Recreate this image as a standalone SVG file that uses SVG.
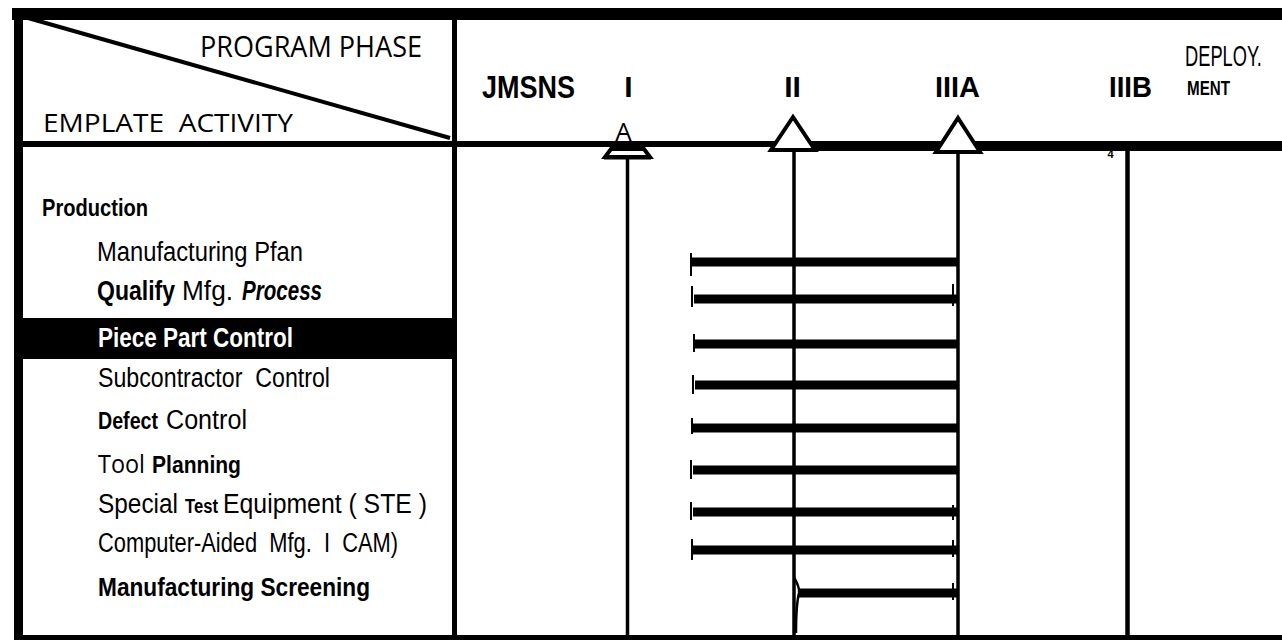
<svg xmlns="http://www.w3.org/2000/svg" width="1282" height="640" viewBox="0 0 1282 640">
<style>
.hs{font-family:"Open Sans","Liberation Sans",sans-serif;fill:#000}
.nr{font-family:"Liberation Sans Narrow","Liberation Sans",Arial,sans-serif;fill:#000}
.nb{font-family:"Liberation Sans Narrow","Liberation Sans",Arial,sans-serif;font-weight:bold;fill:#000}
.row{font-size:27px}
.bar{fill:#000}
.tick{stroke:#000;stroke-width:2}
.vl{stroke:#000;stroke-width:3.5}
.tri{fill:#fff;stroke:#000;stroke-width:4;stroke-linejoin:miter}
</style>
<rect width="1282" height="640" fill="#fff"/>
<g id="frame">
<rect x="12" y="8" width="1270" height="12" fill="#000"/>
<rect x="14" y="8" width="9" height="632" fill="#000"/>
<rect x="14" y="635" width="1268" height="5" fill="#000"/>
<rect x="452" y="8" width="5" height="632" fill="#000"/>
<rect x="14" y="141" width="1268" height="6" fill="#000"/>
<rect x="815" y="141" width="467" height="10" fill="#000"/>
<line x1="14" y1="14" x2="450" y2="138" stroke="#000" stroke-width="4"/>
</g>
<g id="header-left">
<text class="hs" x="200" y="57" font-size="30" textLength="222" lengthAdjust="spacingAndGlyphs">PROGRAM PHASE</text>
<text class="hs" x="43" y="132" font-size="26" textLength="250" lengthAdjust="spacingAndGlyphs" xml:space="preserve">EMPLATE  ACTIVITY</text>
</g>
<g id="phases">
<text class="nb" x="482" y="98" font-size="31" textLength="93" lengthAdjust="spacingAndGlyphs">JMSNS</text>
<text class="nb" x="628.5" y="97" font-size="30" text-anchor="middle">I</text>
<text class="nb" x="792.5" y="97" font-size="30" text-anchor="middle">II</text>
<text class="nb" x="935" y="97" font-size="30" textLength="45" lengthAdjust="spacingAndGlyphs">IIIA</text>
<text class="nb" x="1109" y="97" font-size="30" textLength="43" lengthAdjust="spacingAndGlyphs">IIIB</text>
<text class="nr" transform="translate(1185,66) scale(0.61,1)" x="0" y="0" font-size="29" textLength="126" lengthAdjust="spacingAndGlyphs">DEPLOY.</text>
<text class="nb" x="1187" y="95" font-size="21" textLength="43" lengthAdjust="spacingAndGlyphs">MENT</text>
</g>
<g id="connectors">
<line class="vl" x1="627.5" y1="157" x2="627.5" y2="636"/>
<line class="vl" x1="794" y1="150" x2="794" y2="636"/>
<line class="vl" x1="958" y1="152" x2="958" y2="636"/>
<line x1="1127.5" y1="150" x2="1127.5" y2="636" stroke="#000" stroke-width="4.5"/>
<rect class="bar" x="692" y="257.5" width="265" height="9"/>
<rect class="bar" x="694" y="294.5" width="263" height="9"/>
<rect class="bar" x="694" y="339.5" width="263" height="9"/>
<rect class="bar" x="695" y="380.5" width="262" height="9"/>
<rect class="bar" x="693" y="423.5" width="264" height="9"/>
<rect class="bar" x="693" y="465.5" width="264" height="9"/>
<rect class="bar" x="693" y="507.5" width="264" height="9"/>
<rect class="bar" x="693" y="545.5" width="264" height="9"/>
<rect class="bar" x="799" y="588.5" width="158" height="9"/>
<line class="tick" x1="691" y1="253" x2="691" y2="276"/>
<line class="tick" x1="692" y1="286" x2="692" y2="307"/>
<line class="tick" x1="694" y1="334" x2="694" y2="352"/>
<line class="tick" x1="693" y1="375" x2="693" y2="394"/>
<line class="tick" x1="692" y1="418" x2="692" y2="434"/>
<line class="tick" x1="691" y1="460" x2="691" y2="479"/>
<line class="tick" x1="691" y1="502" x2="691" y2="520"/>
<line class="tick" x1="692" y1="539" x2="692" y2="560"/>
<line class="tick" x1="953" y1="284" x2="953" y2="306"/>
<line class="tick" x1="953" y1="505" x2="953" y2="520"/>
<line class="tick" x1="953" y1="540" x2="953" y2="557"/>
<line class="tick" x1="953" y1="583" x2="953" y2="600"/>
<path d="M794 577 Q800 588 799 593 Q796 605 796 633" fill="none" stroke="#000" stroke-width="2.5"/>
</g>
<g id="milestone-A">
<polygon class="tri" points="611,149 644,149 650,157 605,157" stroke-width="3"/>
<line x1="604" y1="157.5" x2="651" y2="157.5" stroke="#000" stroke-width="4"/>
<text class="hs" x="623.5" y="141" font-size="26" text-anchor="middle">A</text>
</g>
<g id="milestone-II">
<polygon class="tri" points="793,117 815,150 771,150"/>
</g>
<g id="milestone-IIIA">
<polygon class="tri" points="958,118 980,152 936,152"/>
</g>
<g id="marker-4">
<text class="nb" x="1110.5" y="158" font-size="11" text-anchor="middle">4</text>
</g>
<g id="black-band">
<rect x="23" y="318" width="429" height="41" fill="#000"/>
</g>
<g id="row-production"><text class="nb" x="42" y="216" font-size="24" textLength="106" lengthAdjust="spacingAndGlyphs">Production</text></g>
<g id="row-mfg-plan"><text class="nr row" x="97" y="261" textLength="206" lengthAdjust="spacingAndGlyphs">Manufacturing Pfan</text></g>
<g id="row-qualify">
<text class="nb row" transform="translate(97,300) scale(0.85,1)" x="0" y="0" textLength="91.8" lengthAdjust="spacingAndGlyphs">Qualify</text>
<text class="nr row" x="182" y="300" textLength="51" lengthAdjust="spacingAndGlyphs">Mfg.</text>
<text class="nb row" x="242" y="300" font-style="italic" textLength="80" lengthAdjust="spacingAndGlyphs">Process</text>
</g>
<g id="row-piece-part"><text class="nb row" x="98" y="347" style="fill:#fff" textLength="195" lengthAdjust="spacingAndGlyphs">Piece Part Control</text></g>
<g id="row-subcontractor"><text class="nr row" x="98" y="387" textLength="232" lengthAdjust="spacingAndGlyphs" xml:space="preserve">Subcontractor  Control</text></g>
<g id="row-defect">
<text class="nb" transform="translate(98,429) scale(0.82,1)" x="0" y="0" font-size="24" textLength="73.2" lengthAdjust="spacingAndGlyphs">Defect</text>
<text class="nr row" x="166" y="429" textLength="81" lengthAdjust="spacingAndGlyphs">Control</text>
</g>
<g id="row-tool">
<text class="hs" x="98" y="473" font-size="25" textLength="47" lengthAdjust="spacingAndGlyphs">Tool</text>
<text class="nb" x="152" y="473" font-size="24" textLength="89" lengthAdjust="spacingAndGlyphs">Planning</text>
</g>
<g id="row-ste">
<text class="nr row" transform="translate(98,513) scale(0.9,1)" x="0" y="0" textLength="88.9" lengthAdjust="spacingAndGlyphs">Special</text>
<text class="nb" transform="translate(185,513) scale(0.8,1)" x="0" y="0" font-size="20" textLength="41.2" lengthAdjust="spacingAndGlyphs">Test</text>
<text class="nr row" x="223" y="513" textLength="204" lengthAdjust="spacingAndGlyphs">Equipment ( STE )</text>
</g>
<g id="row-cam"><text class="nr row" x="98" y="552" textLength="300" lengthAdjust="spacingAndGlyphs" xml:space="preserve">Computer-Aided  Mfg.  I  CAM)</text></g>
<g id="row-screening"><text class="nb" x="98" y="596" font-size="25" textLength="272" lengthAdjust="spacingAndGlyphs">Manufacturing  Screening</text></g>
</svg>
